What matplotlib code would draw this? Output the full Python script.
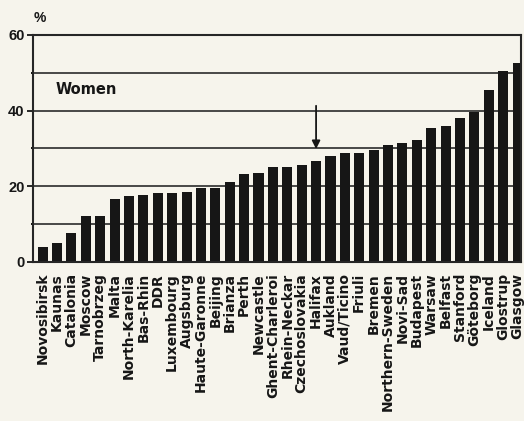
import matplotlib.pyplot as plt
import numpy as np

plt.rcParams['font.family'] = ['Liberation Sans', 'DejaVu Sans']

# Share of women (%) per population, sorted low to high
centres = ['Novosibirsk', 'Kaunas', 'Catalonia', 'Moscow', 'Tarnobrzeg', 'Malta',
           'North-Karelia', 'Bas-Rhin', 'DDR', 'Luxembourg', 'Augsburg',
           'Haute-Garonne', 'Beijing', 'Brianza', 'Perth', 'Newcastle',
           'Ghent-Charleroi', 'Rhein-Neckar', 'Czechoslovakia', 'Halifax',
           'Aukland', 'Vaud/Ticino', 'Friuli', 'Bremen', 'Northern-Sweden',
           'Novi-Sad', 'Budapest', 'Warsaw', 'Belfast', 'Stanford',
           'Göteborg', 'Iceland', 'Glostrup', 'Glasgow']
women = [3.9, 5.1, 7.7, 12.1, 12.1, 16.7, 17.4, 17.7, 18.2, 18.2, 18.6,
         19.5, 19.5, 21.1, 23.1, 23.5, 25.1, 25.1, 25.6, 26.8, 27.9, 28.7,
         28.7, 29.6, 30.8, 31.3, 32.2, 35.4, 35.8, 38.0, 39.6, 45.4, 50.4, 52.6]
marked = 'Halifax'

bg = '#f6f4ec'
ink = '#161616'
wide = ['DejaVu Sans']

fig = plt.figure(figsize=(5.24, 4.21), dpi=100, facecolor=bg)
ax = fig.add_axes([0.063, 0.378, 0.931, 0.539], facecolor=bg)

x = np.arange(len(centres))
ax.set_axisbelow(True)
for y in range(10, 60, 10):
    ax.axhline(y, color='#3a3a3a', lw=1.3, zorder=0)
ax.bar(x, women, width=0.7, color=ink, zorder=2)

ax.set_xlim(-0.67, len(centres) - 0.77)
ax.set_ylim(0, 60)
ax.set_xticks(x)
ax.set_xticklabels(centres, rotation=90, fontsize=10, fontweight='bold',
                   color=ink, family=wide)
ax.tick_params(axis='x', length=0, pad=8)
ax.set_yticks([0, 20, 40, 60])
ax.set_yticks([10, 30, 50], minor=True)
ax.tick_params(axis='y', which='major', length=4, width=1.3, labelsize=10.5,
               pad=2, colors=ink)
ax.tick_params(axis='y', which='minor', length=1.5, width=1.3)
for t in ax.get_yticklabels():
    t.set_fontweight('bold')
for s in ax.spines.values():
    s.set_color('#262626')
    s.set_linewidth(1.5)

ax.text(-0.2, 62.5, '%', fontsize=10, fontweight='bold', color=ink,
        ha='center', va='bottom', clip_on=False)
ax.text(0.9, 45.5, 'Women', fontsize=10.5, fontweight='bold', color=ink,
        ha='left', va='center', family=wide)

i = centres.index(marked)
ax.annotate('', xy=(i, women[i] + 2.3), xytext=(i, women[i] + 15.2),
            arrowprops=dict(arrowstyle='-|>', color=ink, lw=1.3,
                            mutation_scale=12), zorder=3)

fig.savefig('out.png', dpi=100, facecolor=bg)
